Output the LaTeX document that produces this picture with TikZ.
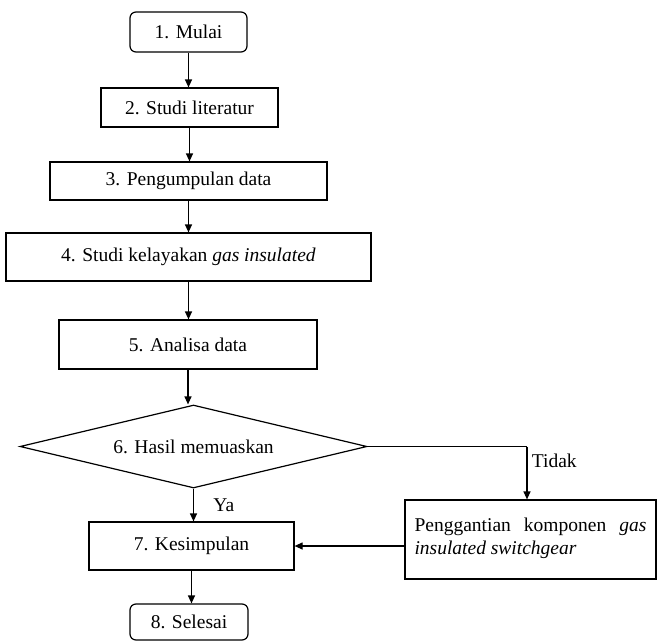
\documentclass[tikz,border=0pt]{standalone}
\usepackage{fontspec}
\setmainfont{Liberation Serif}
\usetikzlibrary{shapes.geometric,arrows.meta}
\begin{document}
\begin{tikzpicture}[x=1pt,y=1pt,
  every node/.style={font=\fontsize{19.5}{23}\selectfont},
  box/.style={draw, line width=1.2pt, rectangle, inner sep=0pt},
  term/.style={box, rounded corners=6pt},
  arr/.style={line width=1.2pt, -{Triangle[length=8pt,width=7pt]}},
  ln/.style={line width=1.2pt}]
\useasboundingbox (0,0) rectangle (657,-641);
\fill[white] (0,0) rectangle (657,-641);
\node[term, minimum width=117pt, minimum height=40pt] (b1) at (188.5,-32) {1. Mulai};
\node[box, minimum width=177pt, minimum height=39pt] (b2) at (189.5,-107.5) {2. Studi literatur};
\node[box, minimum width=277pt, minimum height=38pt] (b3) at (188.5,-181) {3. Pengumpulan data};
\node[box, minimum width=365pt, minimum height=48pt] (b4) at (188.5,-257) {4. Studi kelayakan \textit{gas insulated}};
\node[box, minimum width=258pt, minimum height=49pt] (b5) at (188,-344.5) {5. Analisa data};
\node[draw, line width=1.2pt, diamond, aspect=4.18, inner sep=0pt, minimum width=347pt, minimum height=83pt] (d6) at (193.5,-446.5) {6. Hasil memuaskan};
\node[box, minimum width=205pt, minimum height=48pt] (b7) at (191.5,-546) {7. Kesimpulan};
\node[term, minimum width=118pt, minimum height=36pt] (b8) at (189,-622) {8. Selesai};
\node[box, minimum width=251pt, minimum height=79pt, align=left] (r) at (530.5,-539.5)
  {\makebox[232pt][s]{Penggantian komponen \textit{gas}}\\\textit{insulated switchgear}\hspace{50pt}\strut};
\coordinate (k) at (527,-446.5);
\draw[arr] (b1.south) -- (b1.south |- b2.north);
\draw[arr] (b2.south) -- (b2.south |- b3.north);
\draw[arr] (b3.south) -- (b3.south |- b4.north);
\draw[arr] (b4.south) -- (b4.south |- b5.north);
\draw[arr] (b5.south) -- (b5.south |- d6.north);
\draw[arr] (d6.south) -- node[right=16pt, pos=0.5] (ya) {Ya} (d6.south |- b7.north);
\draw[arr] (b7.south) -- (b7.south |- b8.north);
\draw[ln] (d6.east) -- (k);
\draw[arr] (k) -- node[right=1pt, pos=0.28] (td) {Tidak} (k |- r.north);
\draw[arr] (r.west |- b7.east) -- (b7.east);
\end{tikzpicture}
\end{document}
